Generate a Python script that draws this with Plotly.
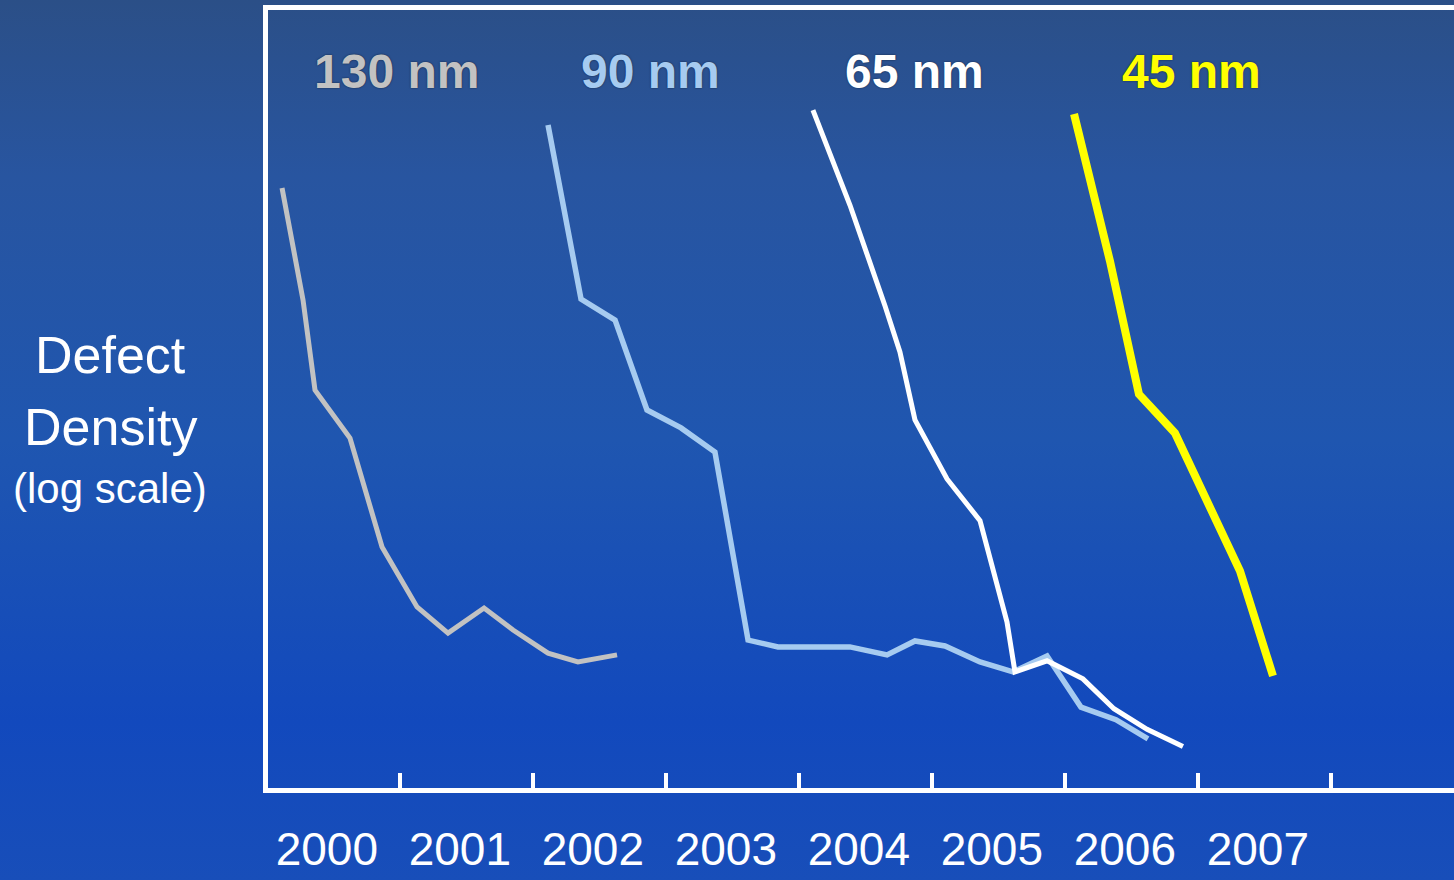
import base64
import plotly.graph_objects as go

# ---- data (years as decimal, defect density in arbitrary units, log scale) ----
years = [2000, 2001, 2002, 2003, 2004, 2005, 2006, 2007]
year_labels = ["2000", "2001", "2002", "2003", "2004", "2005", "2006", "2007"]

t130 = [2000.113, 2000.271, 2000.361, 2000.624, 2000.865, 2001.128, 2001.361,
        2001.632, 2001.850, 2002.113, 2002.338, 2002.632]
d130 = [204, 75.8, 34.2, 22.4, 8.55, 5.04, 4.00, 4.99, 4.11, 3.35, 3.10, 3.30]

t90 = [2002.113, 2002.361, 2002.617, 2002.857, 2003.113, 2003.368, 2003.617,
       2003.842, 2004.383, 2004.662, 2004.872, 2005.098, 2005.361, 2005.609,
       2005.865, 2006.120, 2006.383, 2006.624]
d90 = [356, 76.5, 63.5, 28.7, 24.5, 19.8, 3.76, 3.54, 3.54, 3.30, 3.73, 3.57,
       3.10, 2.84, 3.27, 2.08, 1.86, 1.57]

t65 = [2004.105, 2004.383, 2004.647, 2004.759, 2004.872, 2005.113, 2005.361,
       2005.564, 2005.624, 2005.865, 2006.135, 2006.368, 2006.617, 2006.887]
d65 = [406, 175.5, 71.9, 47.9, 26.3, 15.6, 10.8, 4.41, 2.84, 3.13, 2.67, 2.05,
       1.71, 1.47]

t45 = [2006.068, 2006.338, 2006.556, 2006.827, 2007.316, 2007.564]
d45 = [392, 107, 33.0, 23.4, 6.92, 2.74]

node_names = ["130 nm", "90 nm", "65 nm", "45 nm"]
node_label_x = [2000.97, 2002.88, 2004.87, 2006.95]

# ---- styles ----
colors = ["#c2c2c2", "#a6cbf0", "#ffffff", "#ffff00"]
widths = [5, 5.5, 5, 8]
FONT = "Liberation Sans, Arial, sans-serif"

W, H = 1454, 880
ML, MR, MT, MB = 268, 0, 10, 92
PW, PH = W - ML - MR, H - MT - MB

# gradient background as an svg image
svg = f"""<svg xmlns='http://www.w3.org/2000/svg' width='{W}' height='{H}'>
<defs><linearGradient id='g' x1='0' y1='0' x2='0' y2='1'>
<stop offset='0' stop-color='#2b4f87'/>
<stop offset='0.2' stop-color='#2855a0'/>
<stop offset='0.5' stop-color='#1f56b0'/>
<stop offset='0.82' stop-color='#1249bd'/>
<stop offset='1' stop-color='#184eb9'/>
</linearGradient></defs>
<rect width='{W}' height='{H}' fill='url(#g)'/></svg>"""
bg_uri = "data:image/svg+xml;base64," + base64.b64encode(svg.encode()).decode()

fig = go.Figure()
series = [(t130, d130), (t90, d90), (t65, d65), (t45, d45)]
for (t, d), c, w, n in zip(series, colors, widths, node_names):
    fig.add_trace(go.Scatter(x=t, y=d, mode="lines", name=n,
                             line=dict(color=c, width=w), hoverinfo="skip"))

for n, xv, c in zip(node_names, node_label_x, colors):
    fig.add_annotation(x=xv, y=(788 - 71) / PH, xref="x", yref="paper",
                       text=n, showarrow=False, xanchor="center", yanchor="middle",
                       font=dict(family=FONT, size=48, color=c, weight="bold",
                                 shadow="0px 0px 2px rgba(0,0,0,0.6)"))

ytitle = [("Defect", 52, 355), ("Density", 52, 427), ("(log scale)", 42, 488)]
for txt, sz, py in ytitle:
    fig.add_annotation(x=(110 - ML) / PW, y=(788 - py) / PH, xref="paper", yref="paper",
                       text=txt, showarrow=False, xanchor="center", yanchor="middle",
                       font=dict(family=FONT, size=sz, color="white"))

fig.update_layout(
    width=W, height=H,
    margin=dict(l=ML, r=MR, t=MT, b=MB, pad=0, autoexpand=False),
    paper_bgcolor="#1e52a8", plot_bgcolor="rgba(0,0,0,0)",
    showlegend=False,
    images=[dict(source=bg_uri, xref="paper", yref="paper",
                 x=-ML / PW, y=1 + MT / PH, sizex=W / PW, sizey=H / PH,
                 xanchor="left", yanchor="top", sizing="stretch", layer="below")],
    xaxis=dict(range=[2000.0075, 2008.925], showgrid=False, zeroline=False,
               showline=True, linewidth=5, linecolor="white", mirror=True,
               automargin=False,
               tickvals=[y + 0.45 for y in years], ticktext=year_labels,
               ticks="", ticklabelstandoff=17,
               tickfont=dict(family=FONT, size=46, color="white"),
               minor=dict(tickvals=[y + 1 for y in years], ticks="inside",
                          ticklen=15, tickwidth=4, tickcolor="white", showgrid=False)),
    yaxis=dict(type="log", range=[0.0077, 2.9923], showgrid=False, zeroline=False,
               showline=True, linewidth=5, linecolor="white", automargin=False,
               showticklabels=False, ticks=""),
)

fig.write_html("out.html", config={"displayModeBar": False},
               post_script="document.body.style.margin='0';document.body.style.overflow='hidden';")
